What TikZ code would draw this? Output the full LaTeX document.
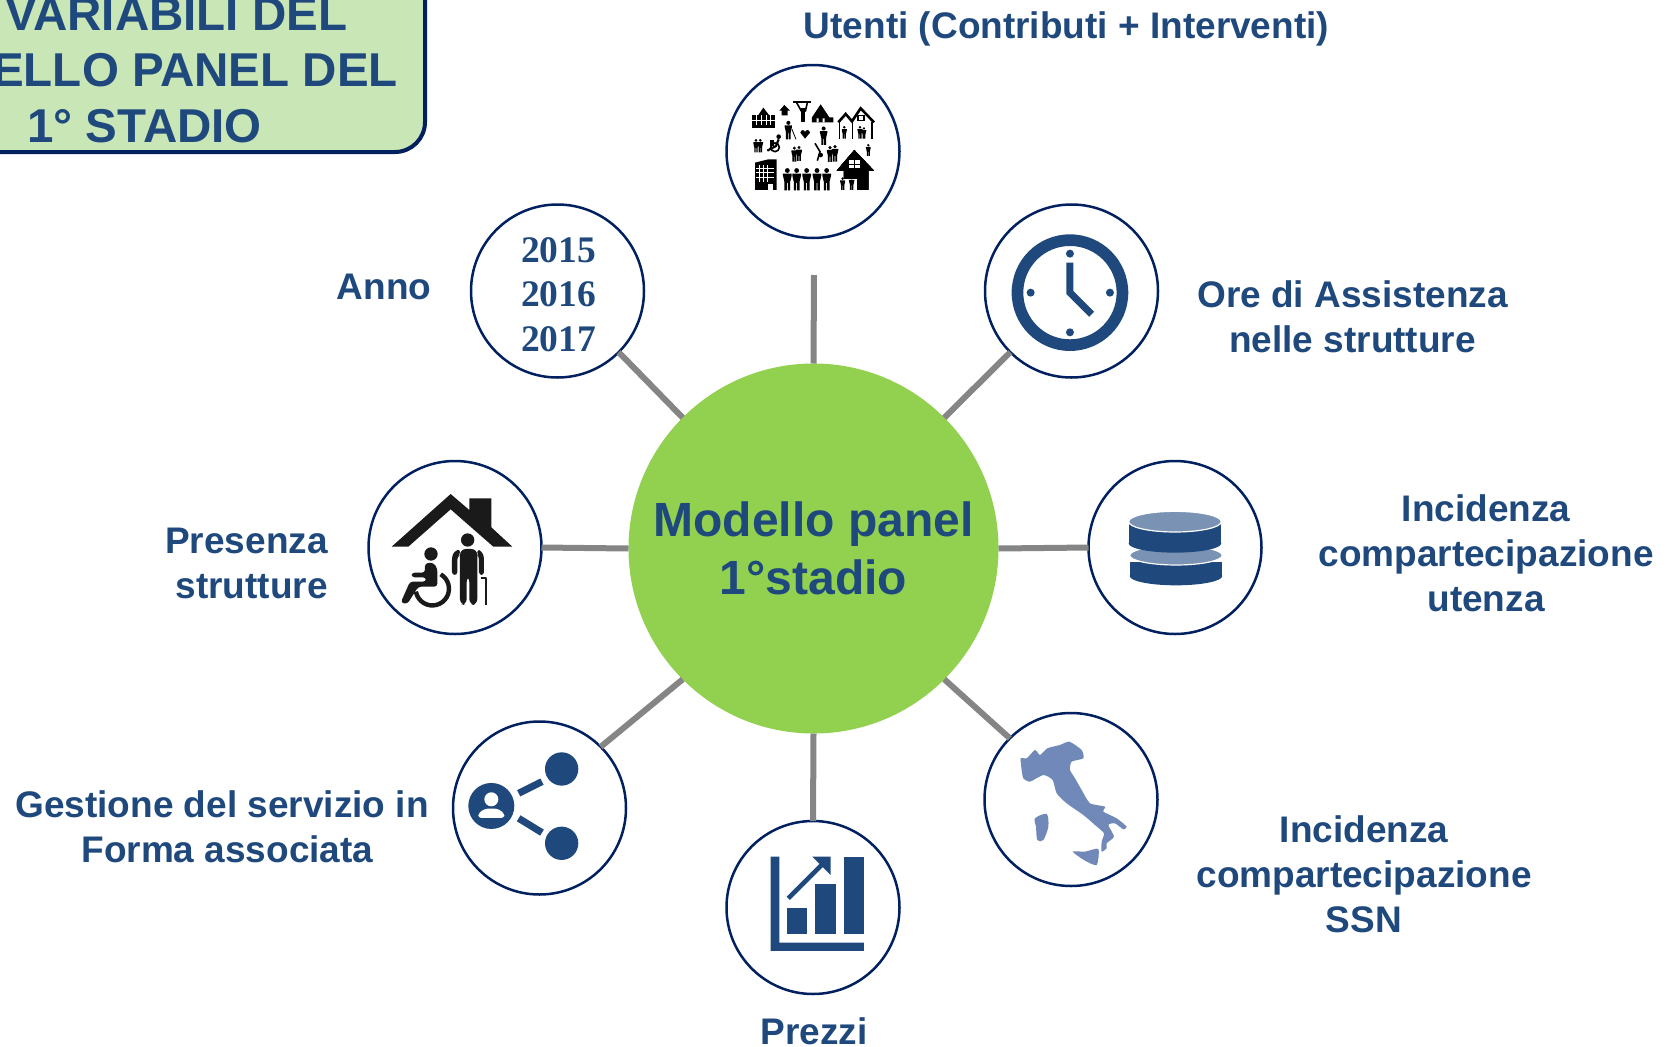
\documentclass[tikz,border=0pt]{standalone}
\usepackage{fontspec}
\setmainfont{Liberation Sans}
\newfontfamily\yearfont{Liberation Serif}
\definecolor{txtblue}{HTML}{1F497D}
\definecolor{ringblue}{HTML}{002060}
\definecolor{hubgreen}{HTML}{92D050}
\definecolor{boxgreen}{HTML}{C9E6B7}
\definecolor{linkgrey}{HTML}{858585}
\definecolor{paleblue}{HTML}{7A93B5}
\definecolor{mapblue}{HTML}{7089B8}
\definecolor{ink}{HTML}{1A1A1A}
\newcommand{\ppl}[3]{% x, top y, height
  \fill[black] ({#1},{#2+0.1*#3}) circle[radius={0.11*#3}];
  \fill[black] ({#1-0.2*#3},{#2+0.24*#3}) -- ({#1+0.2*#3},{#2+0.24*#3}) -- ({#1+0.2*#3},{#2+0.32*#3}) -- ({#1+0.13*#3},{#2+0.62*#3}) -- ({#1+0.13*#3},{#2+#3}) -- ({#1+0.02*#3},{#2+#3}) -- ({#1+0.02*#3},{#2+0.66*#3}) -- ({#1-0.02*#3},{#2+0.66*#3}) -- ({#1-0.02*#3},{#2+#3}) -- ({#1-0.13*#3},{#2+#3}) -- ({#1-0.13*#3},{#2+0.62*#3}) -- ({#1-0.2*#3},{#2+0.32*#3}) -- cycle;}
\tikzset{
  spoke/.style={draw=linkgrey,line width=6pt},
  badge/.style={circle,draw=ringblue,line width=2.5pt,fill=white,minimum size=173pt,inner sep=0pt,outer sep=0pt},
  hub/.style={circle,fill=hubgreen,minimum size=370pt,inner sep=0pt,outer sep=0pt,align=center,text=txtblue,font=\fontsize{48}{58.5}\selectfont\bfseries},
  lab/.style={text=txtblue,inner sep=0pt,align=center,font=\fontsize{37}{45}\selectfont\bfseries},
  titleline/.style={text=txtblue,inner sep=0pt,anchor=base west,font=\fontsize{47.5}{56}\selectfont\bfseries},
  years/.style={text=txtblue,align=center,inner sep=0pt,font=\yearfont\fontsize{37.5}{44.5}\selectfont\bfseries}
}
\begin{document}
\begin{tikzpicture}[x=1pt,y=-1pt]
\clip (0,0) rectangle (1674,1047);
\fill[white] (0,0) rectangle (1674,1047);
% title box
\draw[fill=boxgreen,draw=ringblue,line width=4pt,rounded corners=30pt] (-60,-60) rectangle (425,152);
\node[titleline] (t1) at (5,30) {VARIABILI DEL};
\node[titleline,anchor=base east] (t2) at (398,86) {ELLO PANEL DEL};
\node[titleline] (t3) at (27,142) {1° STADIO};
% hub and badges
\node[hub] (hub) at (813.5,548.5) {Modello panel\\1°stadio};
\node[badge] (users) at (813,151.5) {};
\node[badge] (clock) at (1071.5,291) {};
\node[badge] (db) at (1175,547.5) {};
\node[badge] (italy) at (1071,799.5) {};
\node[badge] (prices) at (813,907.5) {};
\node[badge] (share) at (539.5,808) {};
\node[badge] (care) at (455,547.5) {};
\node[badge] (year) at (557.5,291) {};
\node[years] (yeartext) at (558.5,294.5) {2015\\2016\\2017};
% connectors
\coordinate (topend) at (814,275);
\draw[spoke] (hub.90) -- (topend);
\draw[spoke] (hub.45) -- (clock.225);
\draw[spoke] (hub.0) -- (db.180);
\draw[spoke] (hub.-45) -- (italy.135);
\draw[spoke] (hub.-90) -- (prices.90);
\draw[spoke] (hub.225) -- (share.45);
\draw[spoke] (hub.180) -- (care.0);
\draw[spoke] (hub.135) -- (year.-45);
% labels
\node[lab] (lusers) at (1066.5,28.5) {Utenti (Contributi + Interventi)};
\node[lab] (lyear) at (384,287) {Anno};
\node[lab] (lclock) at (1352.5,317) {Ore di Assistenza\\nelle strutture};
\node[lab] (ldb) at (1486,553.5) {Incidenza\\compartecipazione\\utenza};
\node[lab] (litaly) at (1364,874) {Incidenza\\compartecipazione\\SSN};
\node[lab] (lprices) at (814,1031) {Prezzi};
\node[lab] (lshare) at (222,827) {Gestione del servizio in\\\hspace*{11pt}Forma associata};
\node[lab,align=right,anchor=east] (lcare) at (328,563) {Presenza\\strutture};
% clock and users icons
\begin{scope}[shift={(700,40)},x=0.3333pt,y=-0.3333pt]
\fill[txtblue,even odd rule] (1110,758) circle[radius=175] (1110,758) circle[radius=140];
\foreach \p in {(1110,641),(992,758),(1230,758),(1110,877)} \fill[txtblue] \p circle[radius=12];
\draw[txtblue,line width=7pt] (1110,668) -- (1110,758) -- (1175,823);
\fill[black] (157,225) rectangle (225,265);
\fill[black] (175,225) -- (190,203) -- (207,225) -- cycle;
\foreach \i in {170,185,200,212} \draw[white,line width=.6pt] (\i,225) -- (\i,255);
\draw[white,line width=.6pt] (157,240) -- (225,240);
\fill[black] (238,212) -- (253,195) -- (270,212) -- (263,212) -- (263,226) -- (245,226) -- (245,212) -- cycle;
\fill[black] (280,183) rectangle (332,188);
\fill[black] (303,205) rectangle (316,245);
\draw[black,line width=1.6pt] (290,188) -- (305,215) (322,188) -- (316,215);
\fill[black] (336,232) -- (362,193) -- (388,232) -- (400,232) -- (400,247) -- (336,247) -- cycle;
\fill[white] (350,235) rectangle (356,247) (368,235) rectangle (374,247);
\draw[black,line width=2.6pt] (415,247) -- (437,222) -- (456,244) -- (482,205) -- (522,247);
\draw[black,line width=1.6pt] (418,245) -- (418,296) (458,245) -- (458,296) (516,245) -- (516,296);
\fill[black] (470,225) rectangle (495,243);
\fill[white] (476,229) rectangle (489,240);
\ppl{433}{258}{38}
\ppl{480}{258}{38}
\ppl{492}{262}{34}
\ppl{265}{243}{55}
\draw[black,line width=.8pt] (276,268) -- (288,298);
\fill[black] (315,296) -- (301,278) .. controls (303,268) and (313,268) .. (315,276) .. controls (317,268) and (329,268) .. (330,278) -- cycle;
\ppl{371}{260}{55}
\ppl{168}{297}{40}
\ppl{181}{297}{40}
\fill[black] (210,300) rectangle (222,318);
\draw[black,line width=1.6pt] (225,322) circle[radius=13];
\fill[black] (236,290) circle[radius=7];
\draw[black,line width=2.2pt] (236,298) -- (228,318) -- (202,332);
\ppl{283}{320}{45}
\ppl{297}{318}{45}
\draw[black,line width=1.6pt] (345,310) -- (360,335) -- (352,362);
\fill[black] (362,345) circle[radius=7];
\ppl{390}{318}{48}
\ppl{405}{315}{50}
\ppl{505}{312}{36}
\fill[black] (165,368) -- (205,358) -- (230,358) -- (230,450) -- (165,450) -- cycle;
\foreach \i in {178,190,202} \draw[white,line width=.6pt] (\i,375) -- (\i,425);
\foreach \j in {385,398,411} \draw[white,line width=.6pt] (168,\j) -- (222,\j);
\fill[white] (205,432) rectangle (218,450);
\foreach \i in {262,290,320,351,380} \ppl{\i}{385}{66}
\fill[black] (463,330) -- (522,392) -- (505,392) -- (505,450) -- (432,450) -- (432,392) -- (410,392) -- cycle;
\fill[white] (448,360) rectangle (480,385);
\draw[black,line width=.8pt] (464,360) -- (464,385) (448,372) -- (480,372);
\fill[white] (418,418) rectangle (470,450);
\ppl{428}{412}{38}
\ppl{455}{410}{40}
\end{scope}
% care icon
\begin{scope}[shift={(350,440)},x=0.3333pt,y=-0.3333pt]
\fill[ink] (125,320) -- (302,162) -- (358,210) -- (358,175) -- (424,175) -- (424,262) -- (487,320) -- (430,320) -- (302,208) -- (175,320) -- cycle;
\fill[ink] (353,300) circle[radius=20];
\fill[ink,rounded corners=6pt] (330,327) -- (382,327) -- (382,495) -- (358,495) -- (358,408) -- (350,408) -- (350,495) -- (330,495) -- cycle;
\fill[ink,rounded corners=3pt] (330,327) -- (312,335) -- (306,350) -- (306,405) -- (322,405) -- (322,350) -- (330,345) -- cycle;
\fill[ink,rounded corners=3pt] (382,327) -- (396,335) -- (402,350) -- (402,405) -- (387,405) -- (387,350) -- (382,345) -- cycle;
\draw[ink,line width=2.3pt,line join=round] (393,415) -- (409,415) -- (409,495);
\fill[ink] (243,342) circle[radius=20];
\fill[ink,rounded corners=3pt] (225,370) -- (250,368) -- (262,385) -- (262,440) -- (205,440) -- (172,492) -- (152,488) -- (180,425) -- (228,425) -- (228,412) -- (185,412) -- (185,398) -- (225,398) -- cycle;
\draw[ink,line width=4.4pt] (272,403) arc[start angle=-60,end angle=170,radius=50];
\end{scope}
% share icon
\begin{scope}[shift={(350,440)},x=0.3333pt,y=-0.3333pt]
\fill[txtblue] (424,1098) circle[radius=69];
\fill[white] (424,1078) circle[radius=21];
\fill[white,rounded corners=3pt] (385,1134) -- (385,1120) -- (405,1106) -- (443,1106) -- (463,1120) -- (463,1134) -- cycle;
\fill[txtblue] (635,987) circle[radius=50];
\fill[txtblue] (635,1210) circle[radius=50];
\draw[txtblue,line width=7pt] (506,1060) -- (576,1025) (506,1135) -- (576,1178);
\end{scope}
% database and Italy icons
\begin{scope}[shift={(960,450)},x=0.3333pt,y=-0.3333pt]
\fill[txtblue] (648,378) ellipse[x radius=139,y radius=28];
\fill[txtblue] (509,335) rectangle (787,378);
\draw[paleblue,fill=paleblue] (648,316) ellipse[x radius=137,y radius=27];
\draw[white,line width=1.2pt] (648,316) ellipse[x radius=139,y radius=29];
\fill[txtblue] (645,280) ellipse[x radius=139,y radius=28];
\fill[txtblue] (506,215) rectangle (784,280);
\draw[white,line width=1.2pt,fill=paleblue] (645,215) ellipse[x radius=139,y radius=31];
\fill[mapblue] plot[smooth cycle,tension=.35] coordinates {(182,925) (200,925) (225,900) (240,915) (262,895) (300,885) (328,875) (365,900) (370,925) (335,935) (330,960) (345,985) (365,1020) (390,1060) (435,1070) (430,1085) (470,1105) (500,1130) (490,1138) (465,1120) (445,1125) (462,1160) (440,1180) (440,1195) (425,1205) (425,1175) (432,1150) (405,1125) (370,1095) (320,1060) (290,1030) (278,990) (250,975) (210,995) (190,985) (185,960)};
\fill[mapblue] plot[smooth cycle,tension=.5] coordinates {(225,1105) (260,1092) (265,1130) (250,1170) (232,1170) (228,1130)};
\fill[mapblue] plot[smooth cycle,tension=.4] coordinates {(338,1205) (375,1205) (415,1197) (410,1245) (375,1232)};
\end{scope}
% prices icon
\begin{scope}[shift={(700,810)},x=0.3333pt,y=-0.3333pt]
\fill[txtblue] (212,140) -- (238,140) -- (238,398) -- (492,398) -- (492,423) -- (212,423) -- cycle;
\fill[txtblue] (260,293) rectangle (322,373);
\fill[txtblue] (345,222) rectangle (407,373);
\fill[txtblue] (431,140) rectangle (492,373);
\draw[txtblue,line width=4.5pt] (265,265) -- (370,160);
\fill[txtblue] (337,140) -- (392,140) -- (392,195) -- cycle;
\end{scope}
\end{tikzpicture}
\end{document}
